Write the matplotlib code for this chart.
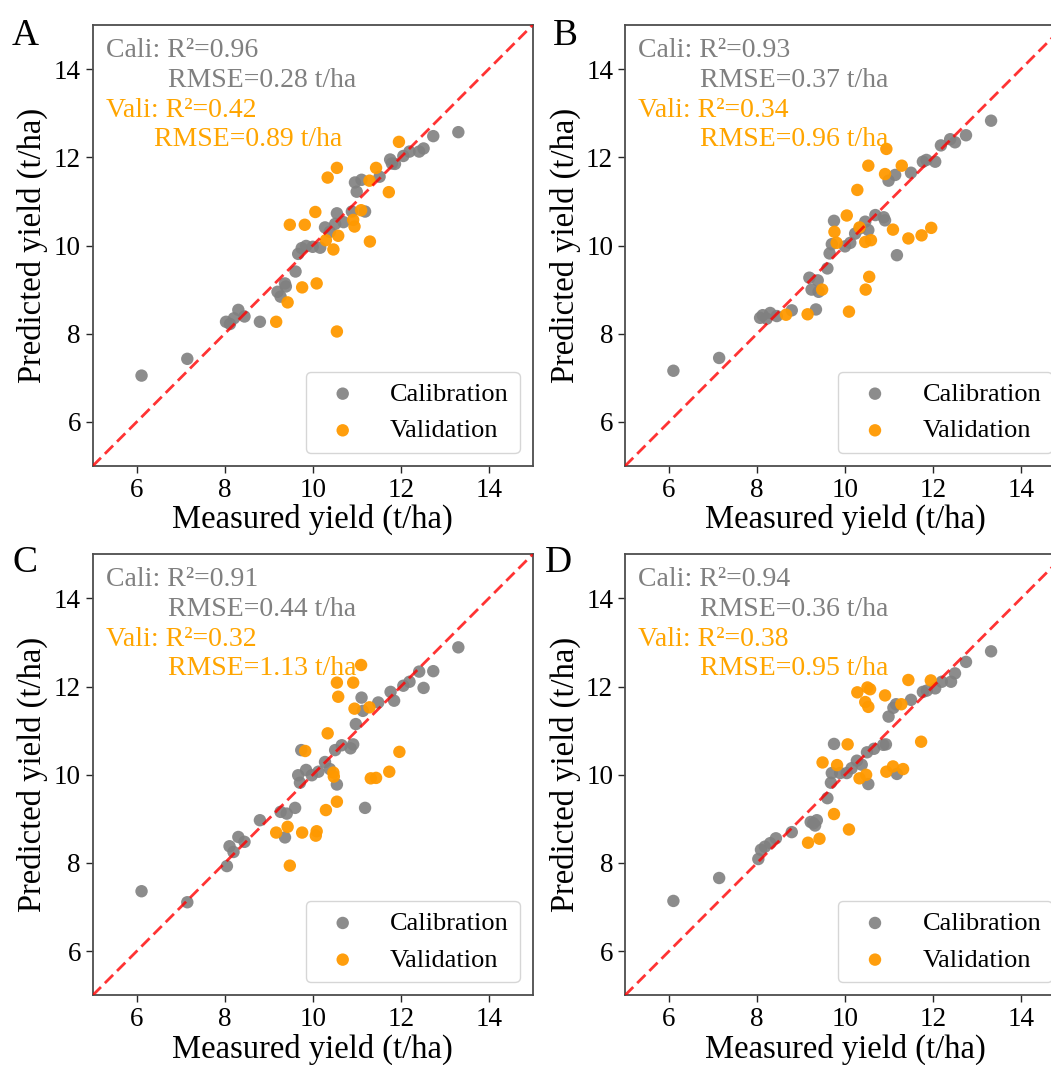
import matplotlib
matplotlib.use('Agg')
import matplotlib.pyplot as plt

plt.rcParams['font.family'] = ['Liberation Serif', 'DejaVu Serif']

# ---------------- data ----------------
panel_letters = ['A', 'B', 'C', 'D']
cali_r2 = ['0.96', '0.93', '0.91', '0.94']
cali_rmse = ['0.28', '0.37', '0.44', '0.36']
vali_r2 = ['0.42', '0.34', '0.32', '0.38']
vali_rmse = ['0.89', '0.96', '1.13', '0.95']
tick_values = [6, 8, 10, 12, 14]

a_cal_x = [6.11, 7.15, 8.03, 8.12, 8.31, 8.45, 8.21, 8.80, 9.20, 9.37, 9.39, 9.27, 9.61, 9.67,
           9.75, 9.85, 10.00, 10.17, 10.28, 10.39, 10.55, 10.70, 10.51, 10.89, 11.19, 10.96,
           11.11, 11.00, 11.52, 11.76, 11.80, 11.87, 12.06, 12.20, 12.42, 12.52, 12.74, 13.31]
a_cal_y = [7.05, 7.43, 8.27, 8.22, 8.54, 8.39, 8.35, 8.27, 8.95, 9.14, 9.07, 8.84, 9.41, 9.81,
           9.94, 9.99, 9.97, 9.95, 10.41, 10.31, 10.73, 10.53, 10.49, 10.77, 10.77, 11.43,
           11.49, 11.22, 11.56, 11.95, 11.86, 11.85, 12.03, 12.13, 12.13, 12.20, 12.48, 12.57]
a_val_x = [11.96, 10.55, 10.34, 11.44, 11.29, 11.73, 10.06, 9.48, 9.82, 11.10, 10.92, 10.95,
           10.58, 10.30, 10.47, 11.30, 9.76, 10.09, 9.43, 9.17, 10.55]
a_val_y = [12.35, 11.76, 11.54, 11.76, 11.47, 11.21, 10.76, 10.47, 10.47, 10.80, 10.58, 10.43,
           10.22, 10.12, 9.91, 10.09, 9.05, 9.14, 8.71, 8.27, 8.05]

b_cal_x = [6.10, 7.14, 8.07, 8.13, 8.30, 8.45, 8.79, 8.22, 9.19, 9.38, 9.24, 9.40, 9.34, 9.60,
           9.65, 9.70, 9.75, 10.00, 10.12, 10.23, 10.34, 10.46, 10.53, 10.69, 10.88, 10.91,
           11.18, 10.99, 11.14, 11.50, 11.77, 11.85, 12.05, 12.18, 12.39, 12.50, 12.75, 13.32]
b_cal_y = [7.16, 7.45, 8.36, 8.42, 8.47, 8.40, 8.53, 8.34, 9.27, 9.21, 9.00, 8.95, 8.55, 9.48,
           9.82, 10.03, 10.56, 9.98, 10.06, 10.27, 10.39, 10.54, 10.35, 10.69, 10.64, 10.57,
           9.78, 11.47, 11.60, 11.65, 11.90, 11.94, 11.90, 12.27, 12.41, 12.34, 12.50, 12.83]
b_val_x = [10.94, 10.53, 11.29, 10.91, 10.28, 10.04, 10.33, 9.76, 9.81, 10.46, 10.59, 11.09,
           11.44, 11.74, 11.96, 10.55, 10.47, 9.48, 10.09, 9.15, 8.66]
b_val_y = [12.19, 11.81, 11.81, 11.62, 11.26, 10.68, 10.41, 10.31, 10.06, 10.08, 10.12, 10.36,
           10.16, 10.23, 10.40, 9.29, 9.00, 9.00, 8.50, 8.44, 8.43]

c_cal_x = [6.11, 7.15, 8.05, 8.11, 8.20, 8.31, 8.45, 8.80, 9.27, 9.41, 9.37, 9.60, 9.71, 9.67,
           9.74, 9.85, 9.98, 10.13, 10.28, 10.39, 10.51, 10.55, 10.66, 10.86, 10.92, 11.19,
           10.98, 11.11, 11.14, 11.49, 11.77, 11.85, 12.06, 12.20, 12.42, 12.52, 12.74, 13.31]
c_cal_y = [7.36, 7.11, 7.93, 8.38, 8.25, 8.59, 8.48, 8.97, 9.16, 9.12, 8.58, 9.25, 9.82, 9.99,
           10.56, 10.11, 9.99, 10.07, 10.29, 10.13, 10.56, 9.78, 10.67, 10.60, 10.69, 9.25,
           11.15, 11.75, 11.45, 11.64, 11.88, 11.68, 12.02, 12.11, 12.34, 11.97, 12.35, 12.89]
c_val_x = [11.10, 10.55, 10.92, 10.58, 10.95, 11.29, 10.34, 9.83, 11.97, 10.47, 10.48, 11.74,
           11.32, 11.44, 10.55, 10.30, 9.43, 9.17, 9.76, 10.09, 10.07, 9.48]
c_val_y = [12.49, 12.09, 12.09, 11.77, 11.50, 11.53, 10.94, 10.54, 10.52, 10.05, 9.96, 10.07,
           9.92, 9.93, 9.39, 9.20, 8.82, 8.69, 8.69, 8.72, 8.62, 7.94]

d_cal_x = [6.10, 7.14, 8.03, 8.09, 8.18, 8.30, 8.43, 8.79, 9.22, 9.36, 9.32, 9.28, 9.60, 9.68,
           9.70, 9.75, 9.89, 10.04, 10.15, 10.27, 10.38, 10.50, 10.53, 10.66, 10.87, 10.93,
           11.18, 10.99, 11.10, 11.16, 11.50, 11.77, 11.86, 12.05, 12.20, 12.41, 12.50, 12.75, 13.32]
d_cal_y = [7.14, 7.66, 8.09, 8.30, 8.37, 8.45, 8.56, 8.70, 8.93, 8.97, 8.85, 8.90, 9.47, 9.82,
           10.04, 10.70, 10.04, 10.04, 10.15, 10.32, 10.23, 10.51, 9.79, 10.59, 10.68, 10.69,
           10.02, 11.32, 11.52, 11.60, 11.70, 11.88, 11.91, 11.96, 12.11, 12.11, 12.30, 12.56, 12.80]
d_val_x = [11.44, 11.95, 10.28, 10.51, 10.57, 10.91, 10.46, 10.53, 11.28, 10.06, 11.73, 9.49,
           9.82, 10.48, 10.33, 10.94, 11.09, 11.32, 9.75, 10.09, 9.42, 9.16]
d_val_y = [12.15, 12.14, 11.87, 11.98, 11.94, 11.80, 11.65, 11.54, 11.60, 10.69, 10.75, 10.28,
           10.22, 10.00, 9.92, 10.07, 10.19, 10.13, 9.11, 8.76, 8.55, 8.46]

cal_x = [a_cal_x, b_cal_x, c_cal_x, d_cal_x]
cal_y = [a_cal_y, b_cal_y, c_cal_y, d_cal_y]
val_x = [a_val_x, b_val_x, c_val_x, d_val_x]
val_y = [a_val_y, b_val_y, c_val_y, d_val_y]

# ---------------- layout ----------------
W, H = 1051, 1065
fig = plt.figure(figsize=(W / 100, H / 100), dpi=100)

ax_w, ax_h = 440 / W, 441 / H
lefts = [92.7 / W, 625 / W, 92.7 / W, 625 / W]
bottoms = [(H - 466) / H, (H - 466) / H, (H - 995.3) / H, (H - 995.3) / H]
letter_pos = [(12 / W, (H - 45) / H), (553 / W, (H - 45) / H),
              (12 / W, (H - 572) / H), (545 / W, (H - 572) / H)]
rmse2_x = [0.139, 0.170, 0.170, 0.170]
rmse1_x = [0.170, 0.170, 0.170, 0.170]

gray_c = 'grey'
orange_c = '#ff9900'

for i in range(4):
    ax = fig.add_axes([lefts[i], bottoms[i], ax_w, ax_h])
    ax.plot([5, 15], [5, 15], linestyle='--', color='red', alpha=0.8, linewidth=2.0,
            dashes=(4.2, 2.0), zorder=3)
    ax.scatter(cal_x[i], cal_y[i], s=80, color=gray_c, alpha=0.9, edgecolors='none',
               label='Calibration', zorder=2)
    ax.scatter(val_x[i], val_y[i], s=80, color=orange_c, alpha=0.95, edgecolors='none',
               label='Validation', zorder=2)
    ax.set_xlim(5, 15)
    ax.set_ylim(5, 15)
    ax.set_xticks(tick_values)
    ax.set_yticks(tick_values)
    ax.tick_params(labelsize=19.5, length=5, width=1, color='0.15')
    for sp in ax.spines.values():
        sp.set_color('0.3')
        sp.set_linewidth(1.3)
    ax.set_xlabel('Measured yield (t/ha)', fontsize=23.5, labelpad=1)
    ax.set_ylabel('Predicted yield (t/ha)', fontsize=23.5, labelpad=4)
    ax.text(0.030, 0.927, 'Cali: R²=' + cali_r2[i], transform=ax.transAxes,
            fontsize=20, color='grey', va='baseline')
    ax.text(rmse1_x[i], 0.859, 'RMSE=' + cali_rmse[i] + ' t/ha', transform=ax.transAxes,
            fontsize=20, color='grey', va='baseline')
    ax.text(0.030, 0.791, 'Vali: R²=' + vali_r2[i], transform=ax.transAxes,
            fontsize=20, color='orange', va='baseline')
    ax.text(rmse2_x[i], 0.726, 'RMSE=' + vali_rmse[i] + ' t/ha', transform=ax.transAxes,
            fontsize=20, color='orange', va='baseline')
    ax.legend(loc='lower right', fontsize=19, handletextpad=0.8)
    fig.text(letter_pos[i][0], letter_pos[i][1], panel_letters[i], fontsize=27,
             va='baseline', ha='left')

fig.savefig('out.png', dpi=100)
